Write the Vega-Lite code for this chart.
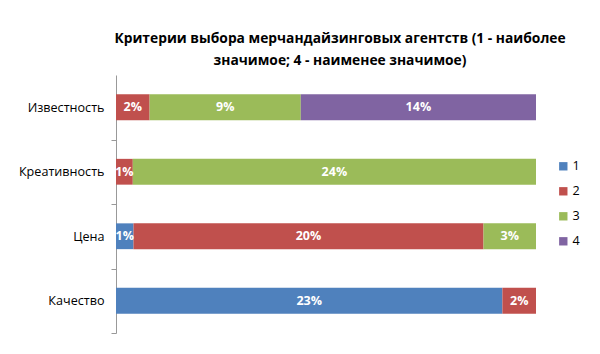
{
  "$schema": "https://vega.github.io/schema/vega-lite/v6.json",
  "autosize": {"type": "none"},
  "width": 420,
  "height": 258,
  "padding": {"left": 116, "top": 75, "right": 64, "bottom": 21},
  "background": "white",
  "title": {
    "text": ["Критерии выбора мерчандайзинговых агентств (1 - наиболее", "значимое; 4 - наименее значимое)"],
    "font": "Open Sans",
    "fontSize": 13.8,
    "fontWeight": "bold",
    "color": "#000000",
    "anchor": "middle",
    "frame": "group",
    "dx": 14,
    "offset": 7,
    "lineHeight": 22
  },
  "data": {
    "values": [
      {"crit": "Известность", "rank": "2", "value": 2},
      {"crit": "Известность", "rank": "3", "value": 9},
      {"crit": "Известность", "rank": "4", "value": 14},
      {"crit": "Креативность", "rank": "2", "value": 1},
      {"crit": "Креативность", "rank": "3", "value": 24},
      {"crit": "Цена", "rank": "1", "value": 1},
      {"crit": "Цена", "rank": "2", "value": 20},
      {"crit": "Цена", "rank": "3", "value": 3},
      {"crit": "Качество", "rank": "1", "value": 23},
      {"crit": "Качество", "rank": "2", "value": 2}
    ]
  },
  "transform": [
    {"stack": "value", "groupby": ["crit"], "sort": [{"field": "rank", "order": "ascending"}], "offset": "normalize", "as": ["x0", "x1"]},
    {"calculate": "(datum.x0 + datum.x1) / 2", "as": "xm"},
    {"calculate": "datum.value + '%'", "as": "label"}
  ],
  "encoding": {
    "y": {
      "field": "crit",
      "type": "nominal",
      "sort": ["Известность", "Креативность", "Цена", "Качество"],
      "scale": {"paddingInner": 0.6, "paddingOuter": 0.3},
      "axis": {
        "title": null,
        "domainColor": "#999999",
        "ticks": true,
        "tickColor": "#999999",
        "tickWidth": 1,
        "tickSize": 5,
        "tickOffset": 32.25,
        "labelOffset": -32.25,
        "labelPadding": 7,
        "labelFont": "Open Sans",
        "labelFontSize": 12.6,
        "labelColor": "#000000"
      }
    }
  },
  "layer": [
    {
      "mark": {"type": "bar"},
      "encoding": {
        "x": {"field": "x0", "type": "quantitative", "scale": {"domain": [0, 1]}, "axis": null},
        "x2": {"field": "x1"},
        "color": {
          "field": "rank",
          "type": "nominal",
          "scale": {"domain": ["1", "2", "3", "4"], "range": ["#4F81BD", "#C0504D", "#9BBB59", "#8064A2"]},
          "legend": {
            "title": null,
            "orient": "none",
            "legendX": 441,
            "legendY": 85,
            "symbolType": "square",
            "symbolSize": 70,
            "symbolStrokeWidth": 0,
            "labelFont": "Open Sans",
            "labelFontSize": 12.6,
            "labelColor": "#000000",
            "labelOffset": 3,
            "rowPadding": 12
          }
        }
      }
    },
    {
      "mark": {"type": "text", "color": "white", "fontWeight": "bold", "font": "Open Sans", "fontSize": 12.5},
      "encoding": {
        "x": {"field": "xm", "type": "quantitative"},
        "text": {"field": "label"}
      }
    }
  ],
  "config": {"view": {"stroke": null}}
}
